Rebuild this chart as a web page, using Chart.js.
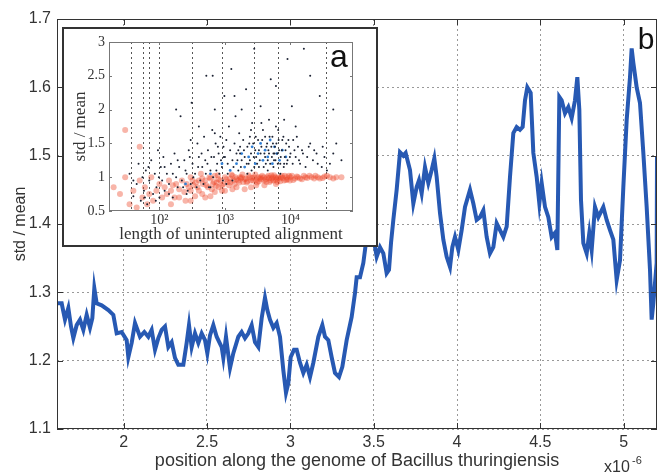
<!DOCTYPE html>
<html>
<head>
<meta charset="utf-8">
<script src="https://cdn.jsdelivr.net/npm/chart.js@4.4.1/dist/chart.umd.min.js"></script>
<style>
html,body{margin:0;padding:0;background:#fff;}
#wrap{position:relative;width:662px;height:472px;}
canvas{display:block;}
#inset{position:absolute;left:62px;top:27px;width:312px;height:216px;border:2px solid #333;background:#fff;}
</style>
</head>
<body>
<div id="wrap">
  <canvas id="main" width="662" height="472"></canvas>
  <div id="inset"><canvas id="sub" width="312" height="216"></canvas></div>
</div>
<script>
// main panel (b): position along genome vs std/mean
const posX = [1.600,1.628,1.648,1.668,1.684,1.698,1.718,1.738,1.758,1.778,1.798,1.812,1.824,1.838,1.868,1.908,1.938,1.958,1.988,
  2.018,2.028,2.048,2.068,2.098,2.124,2.148,2.168,2.188,2.208,2.228,2.248,2.268,2.288,2.308,2.328,2.358,2.378,2.392,2.408,2.428,
  2.448,2.468,2.488,2.502,2.518,2.538,2.558,2.588,2.598,2.614,2.638,2.658,2.688,2.708,2.728,2.748,2.768,2.788,2.808,2.828,2.848,
  2.862,2.878,2.898,2.918,2.938,2.958,2.974,2.988,3.002,3.022,3.038,3.058,3.078,3.098,3.118,3.138,3.168,3.192,3.208,3.228,3.248,
  3.268,3.292,3.312,3.338,3.368,3.388,3.398,3.418,3.438,3.458,3.478,3.498,3.518,3.538,3.558,3.578,3.592,3.604,3.618,3.638,3.658,
  3.678,3.692,3.718,3.738,3.758,3.772,3.788,3.808,3.828,3.848,3.864,3.878,3.898,3.918,3.938,3.958,3.972,3.988,4.008,4.028,4.048,
  4.078,4.098,4.118,4.138,4.158,4.178,4.198,4.218,4.238,4.258,4.278,4.298,4.318,4.338,4.358,4.378,4.394,4.408,4.422,4.442,4.458,
  4.478,4.494,4.508,4.528,4.548,4.568,4.588,4.602,4.614,4.628,4.648,4.668,4.688,4.708,4.722,4.734,4.744,4.758,4.778,4.794,4.808,
  4.828,4.848,4.878,4.898,4.918,4.938,4.958,4.978,4.998,5.018,5.038,5.048,5.058,5.078,5.098,5.118,5.138,5.158,5.168,5.178,5.198,5.2];
const stdMean = [1.284,1.284,1.26,1.277,1.25,1.233,1.252,1.26,1.245,1.267,1.248,1.262,1.306,1.284,1.281,1.274,1.267,1.24,1.242,
  1.23,1.205,1.226,1.255,1.235,1.242,1.235,1.245,1.216,1.233,1.245,1.25,1.22,1.227,1.204,1.194,1.194,1.226,1.252,1.22,1.24,
  1.226,1.24,1.23,1.211,1.237,1.252,1.235,1.22,1.204,1.235,1.189,1.211,1.235,1.242,1.233,1.24,1.252,1.227,1.22,1.262,1.292,
  1.274,1.26,1.248,1.255,1.235,1.186,1.153,1.167,1.205,1.216,1.216,1.197,1.182,1.194,1.176,1.197,1.235,1.252,1.235,1.23,1.205,
  1.182,1.176,1.191,1.23,1.264,1.299,1.322,1.322,1.343,1.381,1.387,1.381,1.352,1.366,1.357,1.328,1.333,1.372,1.406,1.45,1.505,
  1.5,1.504,1.479,1.43,1.454,1.464,1.445,1.483,1.46,1.479,1.496,1.469,1.416,1.377,1.352,1.337,1.366,1.381,1.362,1.391,1.425,
  1.45,1.43,1.406,1.41,1.42,1.381,1.357,1.366,1.401,1.391,1.381,1.396,1.469,1.533,1.542,1.538,1.542,1.581,1.6,1.592,1.504,
  1.469,1.43,1.46,1.425,1.41,1.381,1.387,1.362,1.586,1.581,1.562,1.571,1.555,1.581,1.615,1.567,1.435,1.372,1.357,1.387,1.362,
  1.425,1.41,1.425,1.406,1.391,1.377,1.318,1.347,1.454,1.552,1.615,1.657,1.636,1.6,1.577,1.504,1.425,1.333,1.26,1.284,1.343,1.498];
const xTicks = [2, 2.5, 3, 3.5, 4, 4.5, 5];
const yTicks = [1.1, 1.2, 1.3, 1.4, 1.5, 1.6, 1.7];

// inset panel (a): length of alignment vs std/mean
const darkPts = [[35,1.05],[40,0.72],[45,0.9],[48,1.2],[52,0.65],[55,1.0],[58,0.8],[62,1.1],[65,0.6],[70,0.95],[75,1.25],[80,0.75],
  [85,1.05],[90,0.85],[95,1.4],[100,0.7],[105,1.15],[110,0.95],[115,1.3],[120,0.8],[130,1.05],[140,0.9],[150,1.2],[160,0.7],
  [170,1.35],[180,1.0],[190,0.85],[200,1.15],[210,1.9],[220,0.95],[240,1.25],[260,1.05],[280,1.4],[300,0.9],[310,2.1],[320,1.2],
  [350,1.05],[380,1.5],[400,1.3],[420,0.95],[450,1.15],[480,1.6],[500,1.25],[520,2.5],[550,1.4],[600,1.1],[640,1.7],[680,1.3],
  [700,2.0],[720,1.5],[760,1.2],[800,1.35],[850,1.6],[900,1.15],[950,1.45],[980,2.2],[1000,1.3],[1050,1.55],[1100,1.2],[1150,1.75],
  [1200,1.4],[1250,2.6],[1300,1.25],[1400,1.5],[1450,1.9],[1500,1.35],[1600,1.1],[1650,1.65],[1700,1.45],[1800,1.25],[1900,1.55],
  [2000,1.3],[2100,2.3],[2200,1.45],[2300,1.2],[2400,1.6],[2500,1.35],[2600,1.8],[2700,1.5],[2800,1.15],[2900,1.4],[3000,1.3],
  [3200,1.55],[3400,1.25],[3600,1.45],[3800,1.7],[4000,1.35],[4200,1.2],[4400,1.5],[4600,1.4],[4800,1.6],[5000,2.45],[5200,1.3],
  [5400,1.5],[5600,1.25],[5800,1.45],[6000,1.75],[6300,1.35],[6600,1.55],[7000,1.2],[7400,1.4],[7800,1.6],[8200,1.3],[8600,1.5],
  [9000,1.25],[9500,1.45],[10000,1.35],[10500,2.05],[11000,1.55],[12000,1.3],[13000,1.45],[14000,1.2],[15000,1.4],[16000,2.9],
  [18000,1.3],[20000,1.5],[22000,1.25],[25000,1.35],[28000,2.2],[30000,1.15],[33000,1.3],[40000,1.2],[50000,1.5],[60000,1.25],
  [180,2.0],[650,2.5],[2800,2.9],[9000,2.75],[3500,2.05],[400,1.75],[1800,2.0],[260,0.75],[600,0.85],[1300,0.95],[2200,1.05],
  [4500,1.1],[7000,1.05],[3300,1.4],[5500,1.35],[4100,1.6],[2400,1.25],[1700,1.35],[8000,1.2],
  [1100,1.05],[1350,1.15],[1550,1.25],[1750,1.15],[1950,1.4],[2150,1.2],[2350,1.5],[2550,1.1],[2750,1.3],[2950,1.6],[3100,1.2],
  [3300,1.15],[3500,1.35],[3700,1.55],[3900,1.15],[4100,1.3],[4300,1.45],[4500,1.25],[4700,1.35],[4900,1.2],[5100,1.45],[5300,1.6],
  [5500,1.15],[5700,1.35],[5900,1.25],[6100,1.5],[6400,1.2],[6700,1.4],[7100,1.3],[7500,1.55],[7900,1.15],[8400,1.4],[8800,1.2],
  [9300,1.55],[9800,1.3],[10800,1.2],[11500,1.4],[12500,1.6],[13500,1.25],[15500,1.35],[17000,1.15],[19000,1.45],[23000,1.4],
  [26000,1.2],[31000,1.45],[36000,1.1],[45000,1.35],[120,1.15],[140,0.75],[160,1.05],[190,1.25],[230,0.85],[250,1.1],[270,0.8],
  [290,1.3],[330,1.0],[370,0.85],[390,1.15],[440,1.35],[470,0.9],[510,1.05],[540,1.2],[570,0.85],[620,1.3],[660,1.0],[740,1.1],
  [780,1.45],[820,1.05],[870,1.25],[930,0.95],[960,1.3],[40,0.95],[60,0.7],[68,1.15],[88,0.65],[98,1.0],[1050,0.9],[1600,1.4],
  [2500,1.7],[3600,1.8],[4700,1.85],[6500,1.7],[8000,1.85],[12000,1.75],[700,1.65],[300,1.55],[1400,2.2],[6000,2.35],[20000,2.5],
  [45000,2.0]];
const bluePts = [[1500,1.2],[1800,1.35],[2000,1.15],[2300,1.3],[2600,1.45],[2900,1.2],[3200,1.35],[3500,1.5],[3800,1.25],
  [4100,1.4],[4500,1.3],[4900,1.55],[5300,1.2],[5700,1.45],[6200,1.35],[6800,1.25],[7500,1.4],[8500,1.3],[1200,1.1],[900,1.2],
  [600,1.05],[250,0.9]];
const redPts = [[20,0.85],[25,0.75],[30,1.0],[35,0.6],[40,0.8],[45,0.55],[50,0.95],[55,0.7],[60,0.85],[65,0.6],[70,0.75],[75,1.0],
  [80,0.65],[90,0.8],[100,0.9],[110,0.7],[120,0.85],[130,0.75],[140,0.95],[150,0.8],[160,0.88],[170,0.7],[180,0.9],[200,0.82],
  [220,0.95],[240,0.78],[260,0.9],[280,0.85],[300,1.0],[330,0.88],[360,0.92],[400,0.8],[430,1.05],[460,0.9],[500,0.95],[550,0.85],
  [600,0.98],[650,0.9],[700,1.02],[750,0.92],[800,0.97],[900,0.88],[1000,1.0],[1100,0.93],[1200,0.98],[1300,1.02],[1400,0.9],
  [1500,0.97],[1700,1.0],[1900,0.93],[2100,0.98],[2300,1.03],[2500,0.95],[2800,1.0],[3100,0.92],[3400,0.98],[3700,1.02],
  [4000,0.95],[4400,1.0],[4800,0.93],[5200,0.98],[5600,1.03],[6000,0.96],[6500,1.0],[7000,0.94],[7600,0.99],[8200,1.02],
  [9000,0.97],[10000,1.0],[11000,0.96],[12500,1.01],[14000,0.98],[16000,1.02],[18000,0.99],[21000,1.0],[24000,1.02],[28000,0.98],
  [33000,1.01],[40000,1.0],[50000,1.0],[30,1.7],[50,1.45],[250,0.65],[350,0.72],[500,0.7],[700,0.78],[1000,0.8],[1500,0.85],
  [2000,0.82],[3000,0.88],[1200,0.92],[1600,0.95],[1800,1.0],[2200,0.94],[2600,0.99],[3000,0.96],[3500,1.0],[4200,0.97],
  [4600,1.02],[5000,0.95],[5400,1.0],[6200,0.98],[7200,1.0],[8600,0.96],[9500,1.02],[800,0.85],[400,0.95],[300,0.8],
  [320,0.95],[380,0.85],[450,0.98],[520,0.88],[580,1.0],[630,0.82],[680,0.93],[730,0.87],[780,1.03],[850,0.95],[950,0.9],
  [1050,0.97],[1150,0.88],[1250,1.04],[1350,0.95],[1450,1.0],[1650,0.92],[1750,0.98],[1850,1.04],[2000,0.97],[2150,0.92],
  [2400,1.0],[2700,0.95],[2900,1.04],[3200,1.0],[3300,0.94],[3600,0.97],[3900,1.0],[4300,0.93],[4700,0.99],[5100,1.03],
  [5500,0.95],[5900,1.0],[6300,0.93],[6800,0.98],[7400,1.02],[8000,0.95],[8800,1.0],[9800,0.95],[10500,1.02],[11800,0.98],
  [13000,1.0],[15000,0.97],[17000,1.0],[19500,1.02],[23000,0.98],[26000,1.0],[31000,0.99],[36000,1.02],[45000,0.98],[60000,1.0],
  [150,0.6],[200,0.7],[300,0.65],[450,0.75],[600,0.72],[900,0.8],[1300,0.82],[2500,0.85],[4000,0.88],[6000,0.9]];
const insetMarks = [37, 57, 70, 100, 310, 900, 2800, 6500, 35000];
const insetXTicks = [100, 1000, 10000];
const insetYTicks = [0.5, 1, 1.5, 2, 2.5, 3];
const supers = {100:'10²', 1000:'10³', 10000:'10⁴'};

const sans = "'Liberation Sans', Arial, sans-serif";
const serif = "'Liberation Serif', 'Times New Roman', serif";

function inwardTicks(ctx, chart, xs, ys, len) {
  const a = chart.chartArea, sx = chart.scales.x, sy = chart.scales.y;
  ctx.beginPath();
  xs.forEach(v => {
    const p = Math.round(sx.getPixelForValue(v)) + 0.5;
    ctx.moveTo(p, a.bottom); ctx.lineTo(p, a.bottom - len);
    ctx.moveTo(p, a.top); ctx.lineTo(p, a.top + len);
  });
  ys.forEach(v => {
    const p = Math.round(sy.getPixelForValue(v)) + 0.5;
    ctx.moveTo(a.left, p); ctx.lineTo(a.left + len, p);
    ctx.moveTo(a.right, p); ctx.lineTo(a.right - len, p);
  });
  ctx.stroke();
}

const mainFrame = {
  id: 'mainFrame',
  afterDraw(chart) {
    const ctx = chart.ctx, a = chart.chartArea;
    ctx.save();
    ctx.strokeStyle = '#333';
    ctx.lineWidth = 1;
    ctx.strokeRect(a.left + 0.5, a.top + 0.5, a.right - a.left - 1, a.bottom - a.top - 1);
    inwardTicks(ctx, chart, xTicks, yTicks, 6);
    ctx.fillStyle = '#111';
    ctx.font = '30px ' + sans;
    ctx.textAlign = 'center';
    ctx.textBaseline = 'alphabetic';
    ctx.fillText('b', 646, 49);
    ctx.fillStyle = '#333';
    ctx.font = '16px ' + sans;
    ctx.textAlign = 'left';
    ctx.fillText('x10', 604, 472);
    ctx.font = '11px ' + sans;
    ctx.fillText('-6', 632, 464);
    ctx.restore();
  }
};

new Chart(document.getElementById('main'), {
  type: 'line',
  data: {
    datasets: [{
      data: posX.map((x, i) => ({x: x, y: stdMean[i]})),
      borderColor: '#2759b3',
      borderWidth: 4,
      pointRadius: 0,
      tension: 0,
      fill: false
    }]
  },
  plugins: [mainFrame],
  options: {
    responsive: false,
    animation: false,
    layout: {padding: {left: 0, top: 19, right: 5, bottom: 0}},
    plugins: {legend: {display: false}, tooltip: {enabled: false}},
    scales: {
      x: {
        type: 'linear', min: 1.6, max: 5.2,
        afterBuildTicks: s => { s.ticks = xTicks.map(v => ({value: v})); },
        afterFit: s => { s.height = 43; },
        grid: {color: '#999', drawTicks: false},
        border: {display: false, dash: [2, 3]},
        ticks: {color: '#333', font: {family: sans, size: 16}, padding: 4, maxRotation: 0, callback: v => String(v)},
        title: {display: true, text: 'position along the genome of Bacillus thuringiensis', color: '#333',
          font: {family: sans, size: 18}, padding: {top: 0, bottom: 0}}
      },
      y: {
        min: 1.1, max: 1.7,
        afterBuildTicks: s => { s.ticks = yTicks.map(v => ({value: v})); },
        afterFit: s => { s.width = 57; },
        grid: {color: '#999', drawTicks: false},
        border: {display: false, dash: [2, 3]},
        ticks: {color: '#333', font: {family: sans, size: 16}, padding: 6, callback: v => String(v)},
        title: {display: true, text: 'std / mean', color: '#333', font: {family: sans, size: 16}, padding: {top: 11, bottom: 0}}
      }
    }
  }
});

const insetFrame = {
  id: 'insetFrame',
  beforeDatasetsDraw(chart) {
    const ctx = chart.ctx, a = chart.chartArea, sx = chart.scales.x;
    ctx.save();
    ctx.strokeStyle = '#555';
    ctx.lineWidth = 1;
    ctx.setLineDash([2, 3]);
    insetMarks.forEach(v => {
      const p = Math.round(sx.getPixelForValue(v)) + 0.5;
      ctx.beginPath(); ctx.moveTo(p, a.top); ctx.lineTo(p, a.bottom); ctx.stroke();
    });
    ctx.restore();
  },
  afterDraw(chart) {
    const ctx = chart.ctx, a = chart.chartArea;
    ctx.save();
    ctx.strokeStyle = '#777';
    ctx.lineWidth = 1;
    ctx.strokeRect(a.left + 0.5, a.top + 0.5, a.right - a.left - 1, a.bottom - a.top - 1);
    inwardTicks(ctx, chart, insetXTicks, insetYTicks, 3);
    ctx.fillStyle = '#111';
    ctx.font = '32px ' + sans;
    ctx.textAlign = 'center';
    ctx.fillText('a', 275, 38);
    ctx.restore();
  }
};

const toXY = arr => arr.map(p => ({x: p[0], y: p[1]}));

new Chart(document.getElementById('sub'), {
  type: 'scatter',
  data: {
    datasets: [
      {data: toXY(darkPts), backgroundColor: '#1c2233', borderWidth: 0, pointRadius: 1},
      {data: toXY(bluePts), backgroundColor: '#2f7fd6', borderWidth: 0, pointRadius: 1.4},
      {data: toXY(redPts), backgroundColor: 'rgba(238,70,40,0.4)', borderWidth: 0, pointRadius: 3}
    ]
  },
  plugins: [insetFrame],
  options: {
    responsive: false,
    animation: false,
    layout: {padding: {left: 0, top: 13, right: 23, bottom: 0}},
    plugins: {legend: {display: false}, tooltip: {enabled: false}},
    scales: {
      x: {
        type: 'logarithmic', min: 17, max: 90000,
        afterBuildTicks: s => { s.ticks = insetXTicks.map(v => ({value: v})); },
        afterFit: s => { s.height = 34; },
        grid: {display: false, drawTicks: false},
        border: {display: false},
        ticks: {color: '#333', font: {family: serif, size: 14}, padding: 1, maxRotation: 0, callback: v => supers[v] || ''},
        title: {display: true, text: 'length of uninterupted alignment', color: '#333',
          font: {family: serif, size: 17}, padding: {top: 0, bottom: 0}}
      },
      y: {
        min: 0.5, max: 3,
        afterBuildTicks: s => { s.ticks = insetYTicks.map(v => ({value: v})); },
        afterFit: s => { s.width = 45; },
        grid: {display: false, drawTicks: false},
        border: {display: false},
        ticks: {color: '#333', font: {family: serif, size: 14}, padding: 4, callback: v => String(v)},
        title: {display: true, text: 'std / mean', color: '#333', font: {family: serif, size: 17}, padding: {top: 6, bottom: 0}}
      }
    }
  }
});
</script>
</body>
</html>
